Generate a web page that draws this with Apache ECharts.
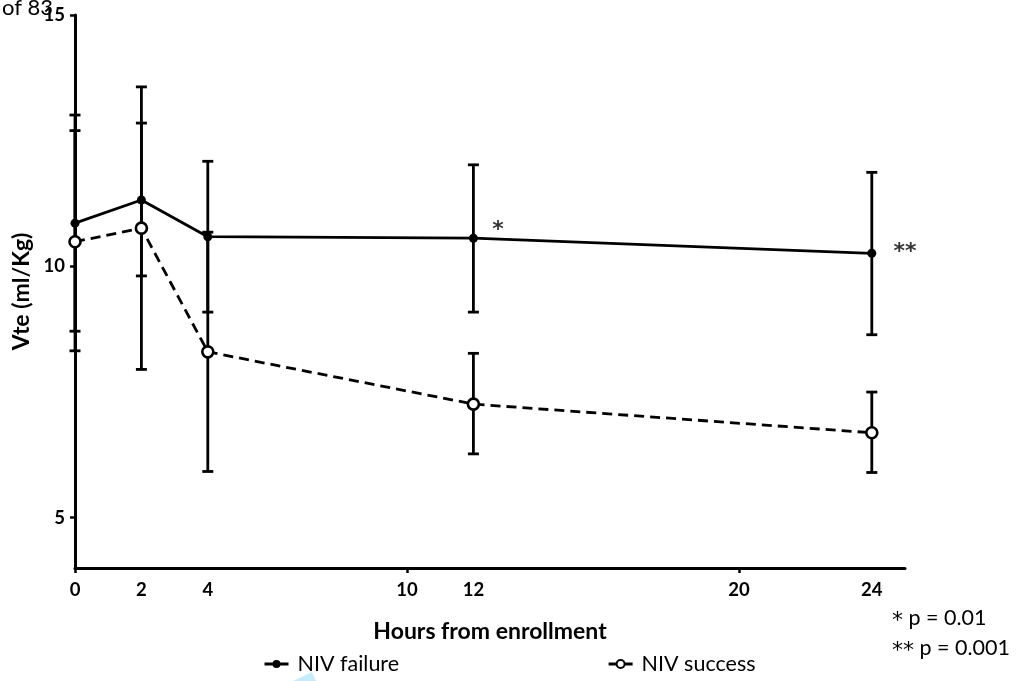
<!DOCTYPE html>
<html>
<head>
<meta charset="utf-8">
<script src="https://cdn.jsdelivr.net/npm/echarts@6/dist/echarts.min.js"></script>
<style>
html,body{margin:0;padding:0;background:#fff;}
#chart{width:1016px;height:681px;}
</style>
</head>
<body>
<div id="chart"></div>
<script>
// ---- data ----
const hours = [0, 2, 4, 12, 24];
const failureMean = [10.86, 11.32, 10.59, 10.56, 10.26];
const failureHigh = [13.01, 12.85, 12.09, 12.02, 11.87];
const failureLow  = [8.71, 9.81, 9.09, 9.09, 8.64];
const successMean = [10.49, 10.76, 8.30, 7.26, 6.69];
const successHigh = [12.70, 13.57, 10.68, 8.27, 7.50];
const successLow  = [8.32, 7.95, 5.92, 6.27, 5.90];
const xLabelValues = [0, 2, 4, 10, 12, 20, 24];
const xTickValues = [0, 10, 20];
const yLabelValues = [5, 10, 15];
const annotations = [[12.74, 10.84, '*'], [25.0, 10.40, '**']];
const seriesNames = ['NIV failure', 'NIV success'];
const pValueNotes = [['*', ' p = 0.01'], ['**', ' p = 0.001']];

const FONT = 'Lato, "Open Sans", "DejaVu Sans", sans-serif';
const STAR_FONT = '"DejaVu Sans", sans-serif';

const pair = (xs, ys) => xs.map((x, i) => [x, ys[i]]);
const barData = (lo, hi) => hours.map((x, i) => [x, lo[i], hi[i]]);

function renderErrorBar(params, api) {
  const x = api.value(0);
  const pLo = api.coord([x, api.value(1)]);
  const pHi = api.coord([x, api.value(2)]);
  const w = 5.5;
  const st = {stroke: '#000', lineWidth: 2.8};
  return {
    type: 'group',
    children: [
      {type: 'line', shape: {x1: pLo[0], y1: pLo[1], x2: pHi[0], y2: pHi[1]}, style: st},
      {type: 'line', shape: {x1: pHi[0] - w, y1: pHi[1], x2: pHi[0] + w, y2: pHi[1]}, style: st},
      {type: 'line', shape: {x1: pLo[0] - w, y1: pLo[1], x2: pLo[0] + w, y2: pLo[1]}, style: st}
    ]
  };
}

const chart = echarts.init(document.getElementById('chart'), null, {renderer: 'canvas'});
chart.setOption({
  animation: false,
  backgroundColor: '#fff',
  textStyle: {fontFamily: FONT, color: '#000'},
  grid: {left: 75, right: 111, top: 15, bottom: 113, containLabel: false},
  xAxis: {
    type: 'value', min: 0, max: 25,
    name: 'Hours from enrollment', nameLocation: 'middle', nameGap: 52,
    nameTextStyle: {fontFamily: FONT, fontWeight: 'bold', fontSize: 23, color: '#000'},
    axisLine: {show: true, onZero: false, lineStyle: {color: '#000', width: 3}},
    axisTick: {show: true, customValues: xTickValues, length: 5, lineStyle: {color: '#000', width: 2.5}},
    axisLabel: {customValues: xLabelValues, margin: 13, fontFamily: FONT, fontWeight: 'bold', fontSize: 18.5, color: '#000'},
    splitLine: {show: false}
  },
  yAxis: {
    type: 'value', min: 4, max: 15,
    name: 'Vte (ml/Kg)', nameLocation: 'middle', nameGap: 41, nameRotate: 90,
    nameTextStyle: {fontFamily: FONT, fontWeight: 'bold', fontSize: 23, color: '#000'},
    axisLine: {show: true, onZero: false, lineStyle: {color: '#000', width: 3}},
    axisTick: {show: true, customValues: yLabelValues, length: 5, lineStyle: {color: '#000', width: 2.5}},
    axisLabel: {customValues: yLabelValues, margin: 10, fontFamily: FONT, fontWeight: 'bold', fontSize: 18.5, color: '#000'},
    splitLine: {show: false}
  },
  legend: {
    left: 258, top: 648, itemGap: 208, itemWidth: 24, itemHeight: 10,
    textStyle: {fontFamily: FONT, fontSize: 21.5, color: '#000', padding: [0, 0, 0, 4]},
    lineStyle: {width: 3},
    data: seriesNames
  },
  series: [
    {
      type: 'custom', name: 'failure-err', renderItem: renderErrorBar,
      data: barData(failureLow, failureHigh), z: 1, clip: false,
      encode: {x: 0, y: [1, 2]}
    },
    {
      type: 'custom', name: 'success-err', renderItem: renderErrorBar,
      data: barData(successLow, successHigh), z: 1, clip: false,
      encode: {x: 0, y: [1, 2]}
    },
    {
      type: 'line', name: seriesNames[0], data: pair(hours, failureMean), z: 3,
      symbol: 'circle', symbolSize: 9,
      lineStyle: {color: '#000', width: 2.8, type: 'solid'},
      itemStyle: {color: '#000', borderColor: '#000', borderWidth: 0}
    },
    {
      type: 'line', name: seriesNames[1], data: pair(hours, successMean), z: 3,
      symbol: 'circle', symbolSize: 11,
      lineStyle: {color: '#000', width: 2.8, type: [10, 6]},
      itemStyle: {color: '#fff', borderColor: '#000', borderWidth: 2.6}
    },
    {
      type: 'scatter', name: 'annot', symbolSize: 0, clip: false, z: 4,
      data: annotations.map(a => ({value: [a[0], a[1]], label: {formatter: a[2]}})),
      label: {show: true, position: 'inside', offset: [0, 6], fontFamily: STAR_FONT, fontWeight: 'bold', fontSize: 22, color: '#000'},
      silent: true
    }
  ],
  graphic: [
    {type: 'text', left: 2, top: -3, style: {text: 'of 83', fontFamily: FONT, fontSize: 22, fill: '#000'}},
    {type: 'text', left: 892, top: 607, style: {
      text: '{s|' + pValueNotes[0][0] + '}' + pValueNotes[0][1],
      fontFamily: FONT, fontSize: 21.5, fill: '#000',
      rich: {s: {fontFamily: STAR_FONT, fontSize: 22, fill: '#000', padding: [6, 0, 0, 0]}}
    }},
    {type: 'text', left: 892, top: 637, style: {
      text: '{s|' + pValueNotes[1][0] + '}' + pValueNotes[1][1],
      fontFamily: FONT, fontSize: 21.5, fill: '#000',
      rich: {s: {fontFamily: STAR_FONT, fontSize: 22, fill: '#000', padding: [6, 0, 0, 0]}}
    }},
    {type: 'polygon', shape: {points: [[293, 681], [312, 672], [316, 681]]}, style: {fill: '#c6ecfb'}}
  ]
});
</script>
</body>
</html>
